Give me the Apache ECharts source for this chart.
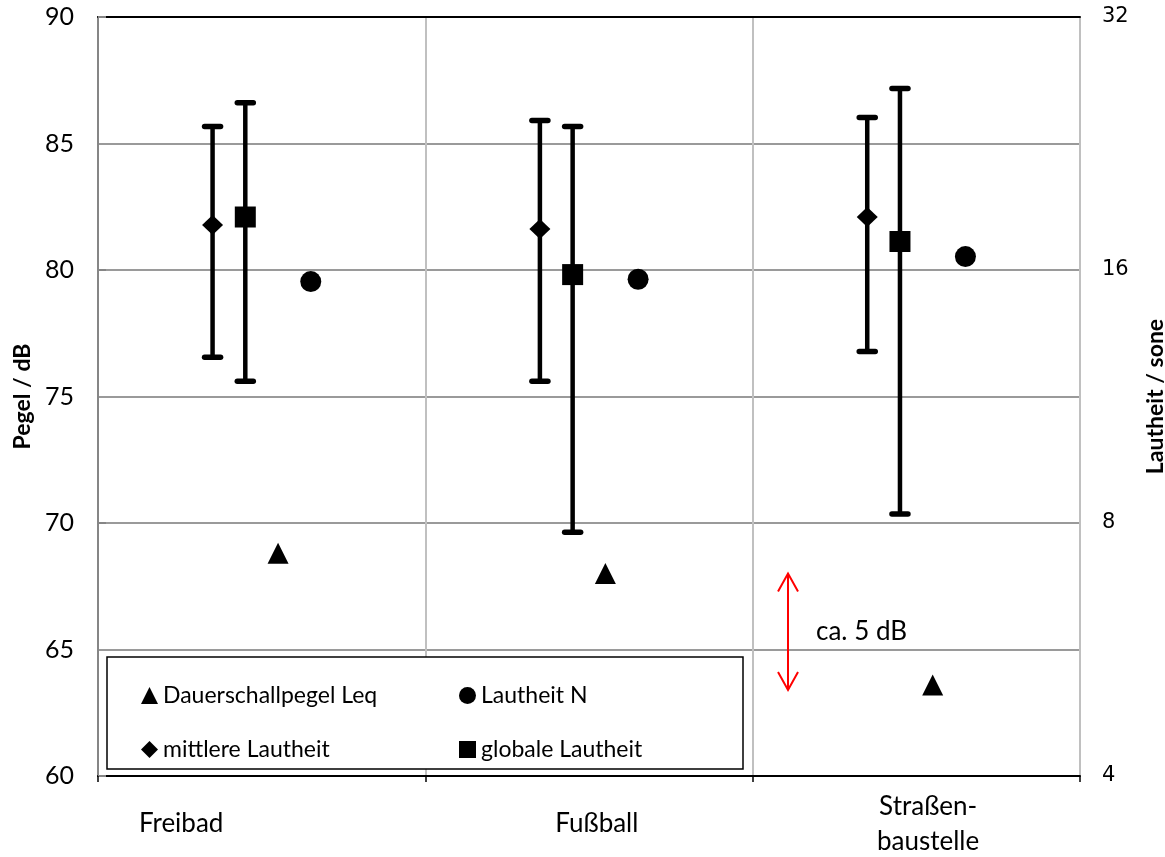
<!DOCTYPE html>
<html><head><meta charset="utf-8">
<script src="https://cdn.jsdelivr.net/npm/echarts@6/dist/echarts.min.js"></script>
<style>html,body{margin:0;padding:0;background:#fff}#c{width:1165px;height:857px}</style>
</head><body><div id="c"></div>
<script>
// ---- data ----
const categories = ['Freibad', 'Fußball', 'Straßen-\nbaustelle'];
const leqDb = [68.8, 68.0, 63.6];                 // Dauerschallpegel Leq (dB)
const loudnessN = [15.5, 15.6, 16.6];             // Lautheit N (sone)
const meanLoudness = [18.1, 17.9, 18.5];          // mittlere Lautheit (sone)
const meanLoudnessMin = [12.6, 11.8, 12.8];
const meanLoudnessMax = [23.7, 24.1, 24.3];
const globalLoudness = [18.5, 15.8, 17.3];        // globale Lautheit (sone)
const globalLoudnessMin = [11.8, 7.8, 8.2];
const globalLoudnessMax = [25.3, 23.7, 26.3];
const dbTicks = [60, 65, 70, 75, 80, 85, 90];
const soneTicks = [4, 8, 16, 32];
const annotationFrom = 68.0, annotationTo = 63.4, annotationText = 'ca. 5 dB';
const seriesNames = ['Dauerschallpegel Leq', 'Lautheit N', 'mittlere Lautheit', 'globale Lautheit'];

// ---- layout (offsets inside each category slot) ----
const OFF = { mean: 0.35, global: 0.45, leq: 0.55, n: 0.65 };
const LABEL_OFF = [0.254, 0.524, 0.536];
const ANNOT_X = 2.108;
const FONT = 'Lato';

const chart = echarts.init(document.getElementById('c'), null, { renderer: 'canvas' });

function pts(arr, off) { return arr.map((v, i) => [i + off, v]); }
function ranges(lo, hi, off) { return lo.map((v, i) => [i + off, v, hi[i]]); }

function errRender(params, api) {
  const x = api.value(0), lo = api.value(1), hi = api.value(2);
  const a = api.coord([x, lo]), b = api.coord([x, hi]);
  const cap = 8;
  const capStyle = { stroke: '#000', lineWidth: 5.5, lineCap: 'round' };
  return { type: 'group', children: [
    { type: 'line', shape: { x1: a[0], y1: a[1], x2: b[0], y2: b[1] }, style: { stroke: '#000', lineWidth: 4.5 } },
    { type: 'line', shape: { x1: a[0] - cap, y1: a[1], x2: a[0] + cap, y2: a[1] }, style: capStyle },
    { type: 'line', shape: { x1: b[0] - cap, y1: b[1], x2: b[0] + cap, y2: b[1] }, style: capStyle }
  ]};
}

function annotRender(params, api) {
  const x = api.value(0);
  const t = api.coord([x, api.value(1)]), btm = api.coord([x, api.value(2)]);
  const s = { stroke: '#ff0000', lineWidth: 2, fill: 'none' };
  const hw = 10, hl = 18;
  return { type: 'group', children: [
    { type: 'line', shape: { x1: t[0], y1: t[1], x2: btm[0], y2: btm[1] }, style: s },
    { type: 'polyline', shape: { points: [[t[0] - hw, t[1] + hl], [t[0], t[1]], [t[0] + hw, t[1] + hl]] }, style: s },
    { type: 'polyline', shape: { points: [[btm[0] - hw, btm[1] - hl], [btm[0], btm[1]], [btm[0] + hw, btm[1] - hl]] }, style: s },
    { type: 'text', x: t[0] + 28, y: (t[1] + btm[1]) / 2,
      style: { text: annotationText, fill: '#000', font: '26px ' + FONT, textAlign: 'left', textVerticalAlign: 'middle' } }
  ]};
}

const markerStyle = { color: '#000', opacity: 1 };

const option = {
  animation: false,
  backgroundColor: '#fff',
  grid: { left: 98, right: 85, top: 17, bottom: 81, outerBoundsMode: 'none', containLabel: false },
  xAxis: [
    { type: 'value', min: 0, max: categories.length, interval: 1, position: 'bottom',
      axisLine: { show: true, lineStyle: { color: '#000', width: 2 } },
      axisTick: { show: true, length: 6, lineStyle: { color: '#000', width: 1.5 } },
      axisLabel: { show: false },
      splitLine: { show: true, lineStyle: { color: '#c0c0c0', width: 2 } } },
    { type: 'value', min: 0, max: categories.length, position: 'top',
      axisLine: { show: true, lineStyle: { color: '#000', width: 2 } },
      axisTick: { show: false }, axisLabel: { show: false }, splitLine: { show: false } }
  ],
  yAxis: [
    { type: 'value', min: dbTicks[0], max: dbTicks[dbTicks.length - 1], interval: dbTicks[1] - dbTicks[0],
      position: 'left', name: 'Pegel / dB', nameLocation: 'middle', nameRotate: 90, nameGap: 64,
      nameTextStyle: { fontFamily: FONT, fontSize: 23, fontWeight: 'bold', color: '#000' },
      axisLine: { show: true, lineStyle: { color: '#868686', width: 2 } },
      axisTick: { show: false },
      axisLabel: { color: '#000', fontFamily: FONT, fontSize: 25, margin: 24 },
      splitLine: { show: true, showMinLine: false, showMaxLine: false, lineStyle: { color: '#9a9a9a', width: 2 } } },
    { type: 'log', logBase: 2, min: soneTicks[0], max: soneTicks[soneTicks.length - 1],
      position: 'right', name: 'Lautheit / sone', nameLocation: 'middle', nameRotate: 90, nameGap: 64,
      nameTextStyle: { fontFamily: FONT, fontSize: 23, fontWeight: 'bold', color: '#000' },
      axisLine: { show: true, lineStyle: { color: '#868686', width: 2 } },
      axisTick: { show: true, length: 8, lineStyle: { color: '#868686', width: 2 } },
      axisLabel: { color: '#000', fontFamily: 'DejaVu Sans', fontSize: 21, margin: 22 },
      splitLine: { show: false } }
  ],
  legend: {
    data: [
      { name: seriesNames[0], icon: 'triangle' }, { name: seriesNames[1], icon: 'circle' },
      { name: seriesNames[2], icon: 'diamond' }, { name: seriesNames[3], icon: 'rect' }
    ],
    left: 136, top: 679, width: 620, orient: 'horizontal', itemGap: 31, itemWidth: 17, itemHeight: 17,
    selectedMode: false, z: 6,
    itemStyle: { color: '#000', opacity: 1 },
    textStyle: { fontFamily: FONT, fontSize: 23, color: '#000', width: 265, lineHeight: 22 }
  },
  series: [
    { type: 'custom', name: 'err-mean', yAxisIndex: 1, renderItem: errRender, encode: { x: 0, y: [1, 2] },
      data: ranges(meanLoudnessMin, meanLoudnessMax, OFF.mean), z: 2, silent: true },
    { type: 'custom', name: 'err-global', yAxisIndex: 1, renderItem: errRender, encode: { x: 0, y: [1, 2] },
      data: ranges(globalLoudnessMin, globalLoudnessMax, OFF.global), z: 2, silent: true },
    { type: 'custom', name: 'annot', yAxisIndex: 0, renderItem: annotRender, encode: { x: 0, y: [1, 2] },
      data: [[ANNOT_X, annotationFrom, annotationTo]], z: 2, silent: true },
    { type: 'scatter', name: seriesNames[0], yAxisIndex: 0, symbol: 'triangle', symbolSize: 21,
      itemStyle: markerStyle, data: pts(leqDb, OFF.leq), z: 3 },
    { type: 'scatter', name: seriesNames[1], yAxisIndex: 1, symbol: 'circle', symbolSize: 21,
      itemStyle: markerStyle, data: pts(loudnessN, OFF.n), z: 3 },
    { type: 'scatter', name: seriesNames[2], yAxisIndex: 1, symbol: 'diamond', symbolSize: [21, 20],
      itemStyle: markerStyle, data: pts(meanLoudness, OFF.mean), z: 3 },
    { type: 'scatter', name: seriesNames[3], yAxisIndex: 1, symbol: 'rect', symbolSize: 21,
      itemStyle: markerStyle, data: pts(globalLoudness, OFF.global), z: 3 }
  ]
};
chart.setOption(option);

// category labels and legend frame
const elements = [
  { type: 'rect', shape: { x: 107, y: 657, width: 636, height: 112 },
    style: { fill: '#fff', stroke: '#000', lineWidth: 1.5 }, z: 4 }
];
categories.forEach((c, i) => {
  const p = chart.convertToPixel({ xAxisIndex: 0, yAxisIndex: 0 }, [i + LABEL_OFF[i], dbTicks[0]]);
  elements.push({ type: 'text', x: p[0], y: p[1] + 48, z: 5,
    style: { text: c, fill: '#000', font: '26px ' + FONT, textAlign: 'center', textVerticalAlign: 'middle', lineHeight: 35 } });
});
chart.setOption({ graphic: { elements } });
</script>
</body></html>
